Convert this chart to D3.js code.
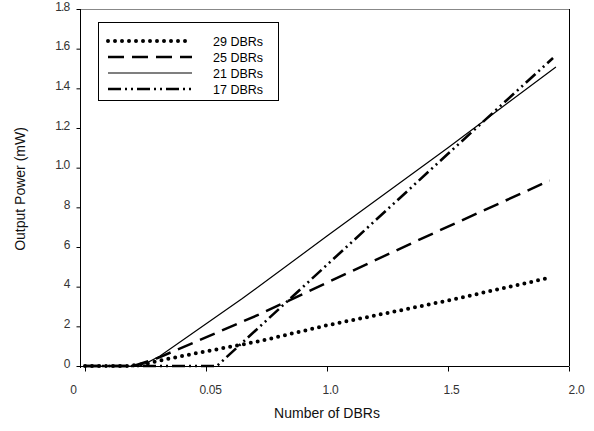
<!DOCTYPE html>
<html><head><meta charset="utf-8">
<script src="https://cdn.jsdelivr.net/npm/d3@7"></script>
<style>body{margin:0;background:#fff}svg{display:block}text{font-family:"Liberation Sans",Arial,sans-serif}</style>
</head><body><svg id="c" width="594" height="431"></svg>
<script>
const seriesNames = ["29 DBRs","25 DBRs","21 DBRs","17 DBRs"];
const x29 = [0,0.1,0.17,0.25,0.3,0.45,0.72,1.0,1.5,1.92];
const y29 = [0,0,0,0.1,0.25,0.62,1.25,2.05,3.3,4.45];
const x25 = [0,0.1,0.2,0.3,0.72,1.0,1.405,1.92];
const y25 = [0,0,0,0.4,2.6,4.2,6.5,9.35];
const x21 = [0,0.1,0.2,0.25,0.31,0.65,1.0,1.5,1.946];
const y21 = [0,0,0,0.12,0.5,3.4,6.55,11.0,15.08];
const x17 = [0,0.1,0.2,0.3,0.4,0.5,0.545,1.0,1.5,1.934];
const y17 = [0,0,0,0,0,0,0,5.1,10.7,15.53];
const xTicks = [0,0.5,1.0,1.5,2.0];
const xTickLabels = ["0","0.05","1.0","1.5","2.0"];
const yTicks = [0,2,4,6,8,10,12,14,16,18];
const yTickLabels = ["0","2","4","6","8","1.0","1.2","1.4","1.6","1.8"];

const svg = d3.select("#c");
const x = d3.scaleLinear().domain([0,2]).range([85,569]);
const y = d3.scaleLinear().domain([0,18]).range([366,9]);

// frame
svg.append("line").attr("x1",80).attr("x2",569).attr("y1",9.5).attr("y2",9.5).attr("stroke","#888").attr("stroke-width",1);
svg.append("line").attr("x1",569.5).attr("x2",569.5).attr("y1",9).attr("y2",366).attr("stroke","#000").attr("stroke-width",1);

// y axis
const ya = svg.append("g").attr("transform","translate(80.5,0)")
  .call(d3.axisLeft(y).tickValues(yTicks).tickSize(4).tickFormat((d,i)=>yTickLabels[i]));
ya.select(".domain").attr("d","M0,9V368").attr("stroke","#000");
ya.selectAll("text").attr("font-size",12).attr("fill","#333").attr("x",-11).attr("letter-spacing",-0.8).attr("dy","0.1em");

// x axis
const xa = svg.append("g").attr("transform","translate(0,366.5)")
  .call(d3.axisBottom(x).tickValues(xTicks).tickSize(5).tickFormat((d,i)=>xTickLabels[i]));
xa.select(".domain").attr("d","M80,0H569").attr("stroke","#000");
const xOff = [-12,4,3,3,7];
xa.selectAll("text").attr("font-size",12).attr("fill","#333").attr("y",19)
  .attr("dx",(d,i)=>xOff[i]).attr("letter-spacing",-0.3);

// axis titles
svg.append("text").attr("x",327).attr("y",418).attr("text-anchor","middle").attr("font-size",14).attr("fill","#111").text("Number of DBRs");
svg.append("text").attr("transform","translate(25,189) rotate(-90)").attr("text-anchor","middle").attr("font-size",14).attr("fill","#111").text("Output Power (mW)");

const styles = [
  {w:4, dash:"0 7", cap:"round"},
  {w:2.5, dash:"16 8", cap:"butt"},
  {w:1.2, dash:null, cap:"butt"},
  {w:2.6, dash:"13 4 2 4 2 4", cap:"butt"}
];
const data = [[x29,y29],[x25,y25],[x21,y21],[x17,y17]];
const line = d3.line().x(d=>x(d[0])).y(d=>y(d[1]));
data.forEach((s,i)=>{
  const pts = s[0].map((v,j)=>[v,s[1][j]]);
  const p = svg.append("path").datum(pts).attr("d",line).attr("fill","none")
    .attr("stroke","#000").attr("stroke-width",styles[i].w).attr("stroke-linecap",styles[i].cap);
  if(styles[i].dash) p.attr("stroke-dasharray",styles[i].dash);
});

// legend
const lg = svg.append("g");
lg.append("rect").attr("x",98.5).attr("y",22.5).attr("width",180).attr("height",78).attr("fill","#fff").attr("stroke","#000").attr("stroke-width",1);
seriesNames.forEach((n,i)=>{
  const yy = 41 + i*16;
  const l = lg.append("line").attr("x1",108).attr("x2",192).attr("y1",yy).attr("y2",yy)
    .attr("stroke","#000").attr("stroke-width",styles[i].w).attr("stroke-linecap",styles[i].cap);
  if(styles[i].dash) l.attr("stroke-dasharray",styles[i].dash);
  lg.append("text").attr("x",213).attr("y",yy+4.5).attr("font-size",12.5).attr("fill","#000").text(n);
});
</script></body></html>
